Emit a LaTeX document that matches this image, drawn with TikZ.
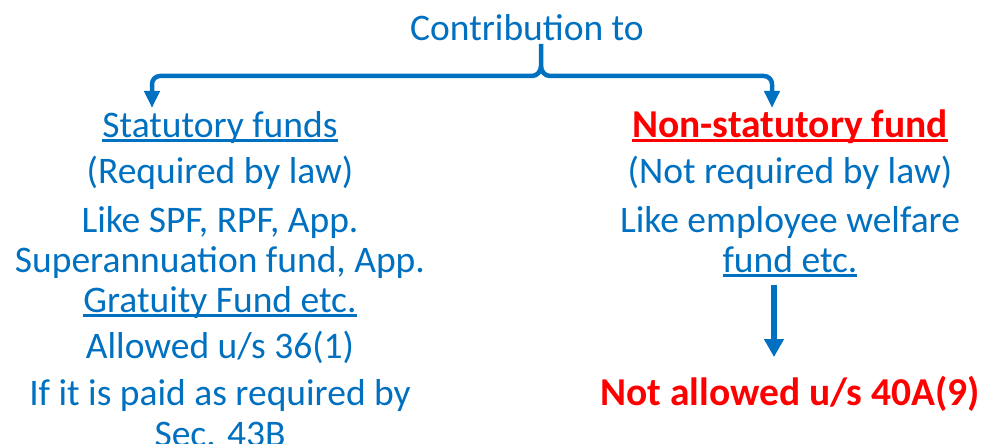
\documentclass[tikz,border=0pt]{standalone}
\usepackage{fontspec}
\setmainfont{Carlito}
\usetikzlibrary{arrows.meta}
\definecolor{cblue}{HTML}{0070C0}
\definecolor{cred}{HTML}{FF0000}
\newcommand\myul[1]{\setbox0\hbox{#1}\rlap{\rule[-4.5pt]{\wd0}{2.5pt}}\box0}
\begin{document}
\begin{tikzpicture}[x=1pt,y=-1pt,
  txt/.style={text=cblue, font=\fontsize{37.5}{40}\selectfont, inner sep=0pt, anchor=base},
  rtxt/.style={text=cred, font=\fontsize{39.5}{40}\selectfont\bfseries, inner sep=0pt, anchor=base},
  br/.style={draw=cblue, line width=4.5pt, line join=round, -{Triangle[width=15pt,length=17pt]}},
  darr/.style={draw=cblue, line width=6pt, -{Triangle[width=19pt,length=18pt]}}]
\clip (0,0) rectangle (983,444);
\node[txt] (contrib) at (527,41) {Contribution to};
\node[txt] (stat) at (220,137) {\myul{Statutory funds}};
\node[txt] (req) at (220,183) {(Required by law)};
\node[txt] (like1) at (220,232) {Like SPF, RPF, App.};
\node[txt] (like2) at (220,272) {Superannuation fund, App.};
\node[txt] (like3) at (220,312) {\myul{Gratuity Fund etc.}};
\node[txt] (allow) at (220,358) {Allowed u/s 36(1)};
\node[txt] (if1) at (220,405) {If it is paid as required by};
\node[txt] (if2) at (220,446) {Sec. 43B};
\node[rtxt] (nonstat) at (790,137) {\myul{Non-statutory fund}};
\node[txt] (notreq) at (790,183) {(Not required by law)};
\node[txt] (emp1) at (790,232) {Like employee welfare};
\node[txt] (emp2) at (790,272) {\myul{fund etc.}};
\node[rtxt] (notallow) at (790,405) {Not allowed u/s 40A(9)};
\coordinate (stem) at (541,44);
\coordinate (cusp) at (541,66);
\coordinate (ltip) at (152,108);
\coordinate (rtip) at (772,108);
\coordinate (dtop) at (774,285);
\coordinate (dbot) at (774,357);
\draw[br] (stem) -- (cusp) to[out=-90,in=0] (532,76) -- (160,76) to[out=180,in=90] (152,84) -- (ltip);
\draw[br] (cusp) to[out=-90,in=180] (550,76) -- (764,76) to[out=0,in=90] (772,84) -- (rtip);
\draw[darr] (dtop) -- (dbot);
\end{tikzpicture}
\end{document}
